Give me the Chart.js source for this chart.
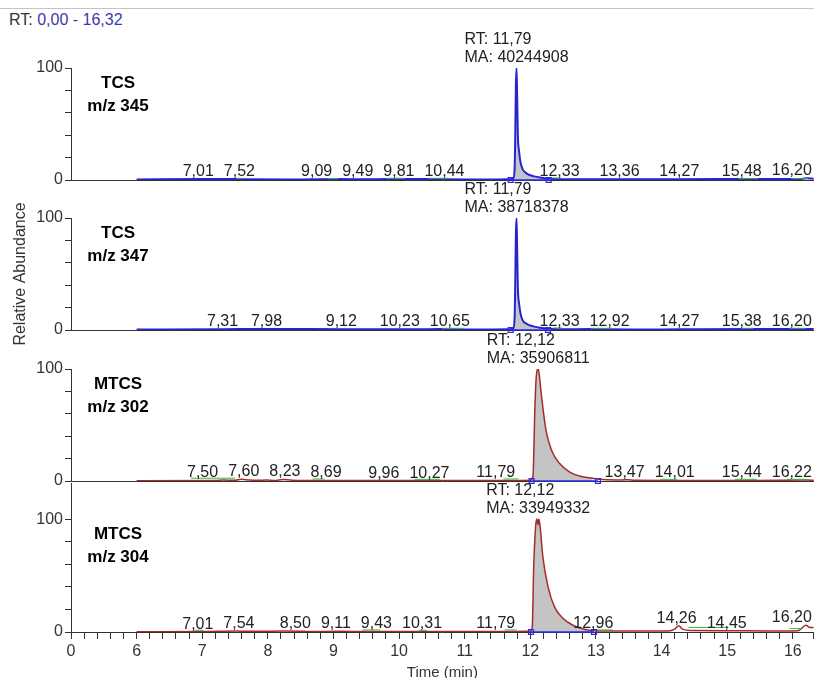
<!DOCTYPE html>
<html>
<head>
<meta charset="utf-8">
<script src="https://cdn.jsdelivr.net/npm/chart.js@4.4.1/dist/chart.umd.min.js"></script>
<style>
  html, body { margin: 0; padding: 0; background: #fff; overflow: hidden; }
  body { width: 814px; height: 678px; position: relative; font-family: "Liberation Sans", Arial, sans-serif; }
  .rule { position: absolute; left: 0; top: 8px; width: 814px; border-top: 1.5px solid #c4c4c4; }
  .range { position: absolute; left: 9px; top: 11px; font-size: 16px; line-height: 18px; color: #333; white-space: nowrap; }
  .range span { color: #3a3aad; }
  canvas { position: absolute; left: 0; }
</style>
</head>
<body>
<div class="rule"></div>
<div class="range">RT: <span>0,00 - 16,32</span></div>
<canvas id="p345"></canvas>
<canvas id="p347"></canvas>
<canvas id="p302"></canvas>
<canvas id="p304"></canvas>
<script>
// time axis: 0-6 min squeezed into one unit, one unit per minute after that
const T_MAX = 16.32;
const axisX = t => (t <= 6 ? t / 6 : t - 5);
const axisLabel = u => (u < 0.5 ? '0' : String(Math.round(u) + 5));
const fmt = v => v.toFixed(2).replace('.', ',');

// TCS m/z 345
const tcs345Time  = [6.00, 7.01, 7.52, 7.60, 8.50, 9.09, 9.49, 9.81, 10.44, 11.00, 11.70, 11.74, 11.76, 11.77, 11.78, 11.79, 11.80, 11.81, 11.83, 11.85, 11.88, 11.93, 12.00, 12.08, 12.15, 12.25, 12.33, 12.45, 13.36, 14.27, 15.48, 16.10, 16.20, 16.32];
const tcs345Abund = [0.5, 0.8, 1.0, 0.6, 0.5, 0.8, 0.7, 0.8, 0.8, 0.5, 0.6, 1.5, 9, 40, 85, 100, 72, 40, 25, 16, 10, 6.5, 4.2, 3.0, 2.2, 1.2, 1.0, 0.6, 0.7, 0.7, 0.9, 0.8, 1.5, 1.2];
const tcs345Peaks = [7.01, 7.52, 9.09, 9.49, 9.81, 10.44, 12.33, 13.36, 14.27, 15.48, 16.20];
const tcs345Green = [[7.52, 7.62, 1.5], [8.91, 9.08, 1.2], [9.80, 10.09, 1.5], [10.45, 10.80, 1.5], [12.30, 12.47, 1.8], [15.17, 15.47, 1.2], [15.98, 16.23, 1.2]];

// TCS m/z 347
const tcs347Time  = [6.00, 7.31, 7.98, 9.12, 10.23, 10.65, 11.00, 11.70, 11.74, 11.76, 11.77, 11.78, 11.79, 11.80, 11.81, 11.83, 11.85, 11.88, 11.93, 12.00, 12.08, 12.15, 12.25, 12.33, 12.45, 12.92, 13.50, 14.27, 15.38, 16.20, 16.32];
const tcs347Abund = [0.5, 0.7, 0.9, 0.7, 0.6, 0.8, 0.5, 0.6, 1.5, 10, 42, 86, 100, 70, 38, 23, 15, 9, 6, 4, 2.8, 2, 1.2, 1.0, 0.6, 0.8, 0.5, 0.6, 0.8, 1.0, 0.8];
const tcs347Peaks = [7.31, 7.98, 9.12, 10.23, 10.65, 12.33, 12.92, 14.27, 15.38, 16.20];
const tcs347Green = [[10.65, 11.00, 1.5], [12.34, 12.49, 1.8], [12.92, 13.25, 1.5], [15.22, 15.40, 1.5], [15.95, 16.20, 1.5]];

// MTCS m/z 302
const mtcs302Time  = [6.00, 7.20, 7.32, 7.50, 7.60, 7.72, 7.85, 7.98, 8.10, 8.23, 8.35, 8.50, 8.69, 9.96, 10.27, 11.79, 12.00, 12.04, 12.07, 12.09, 12.12, 12.14, 12.17, 12.24, 12.32, 12.44, 12.60, 12.75, 12.95, 13.05, 13.30, 13.47, 13.60, 14.01, 15.44, 16.22, 16.32];
const mtcs302Abund = [0.3, 0.4, 0.9, 0.6, 1.5, 0.8, 0.6, 0.9, 0.4, 1.4, 0.8, 0.4, 0.5, 0.4, 0.4, 0.5, 0.6, 4, 66, 93, 100, 93, 76, 45, 28, 16, 8, 4.5, 2.4, 1.5, 0.8, 1.2, 0.6, 0.5, 0.5, 0.8, 0.7];
const mtcs302Peaks = [7.50, 7.60, 8.23, 8.69, 9.96, 10.27, 11.79, 13.47, 14.01, 15.44, 16.22];
const mtcs302Green = [[6.83, 7.50, 2.5], [8.68, 8.86, 1.8], [10.24, 10.62, 1.5], [11.59, 11.82, 1.8], [13.98, 14.24, 1.5], [15.12, 15.45, 1.5], [15.91, 16.21, 1.5]];

// MTCS m/z 304
const mtcs304Time  = [6.00, 7.01, 7.54, 7.62, 7.95, 8.25, 8.50, 8.60, 9.11, 9.43, 10.31, 11.79, 12.00, 12.03, 12.05, 12.08, 12.10, 12.115, 12.13, 12.15, 12.19, 12.27, 12.37, 12.50, 12.65, 12.85, 12.96, 13.20, 14.10, 14.20, 14.26, 14.32, 14.45, 15.00, 15.60, 16.08, 16.20, 16.26, 16.32];
const mtcs304Abund = [0.3, 0.4, 0.8, 0.6, 0.7, 0.8, 0.7, 0.5, 0.6, 0.5, 0.5, 0.5, 0.6, 5, 55, 93, 100, 95, 100, 93, 67, 40, 22, 12, 6, 2, 1.2, 0.8, 0.9, 2.5, 5.5, 2.5, 1.3, 1.2, 0.9, 1.2, 6, 4, 4];
const mtcs304Peaks = [7.01, 7.54, 8.50, 9.11, 9.43, 10.31, 11.79, 12.96, 14.26, 14.45, 16.20];
const mtcs304Green = [[6.89, 7.02, 1.5], [9.44, 9.71, 1.8], [10.30, 10.42, 1.5], [11.61, 11.79, 1.8], [12.97, 13.26, 1.8], [14.41, 15.02, 4], [15.95, 16.15, 3]];

// integrated main peak of each trace
const peakRT   = [11.79, 11.79, 12.12, 12.12];
const peakArea = [40244908, 38718378, 35906811, 33949332];
const peakFrom = [11.70, 11.70, 12.02, 12.01];
const peakTo   = [12.28, 12.27, 13.03, 12.97];

const BLUE = '#2424d4';
const RED = '#a52b2b';
const GREEN = '#3cb53c';
const FILL = '#c4c4c4';
const INK = '#222';
const FONT = '"Liberation Sans", Arial, sans-serif';

const ZERO_Y = [180, 330, 481, 631]; // page y of each panel's 0 line

const panels = [
  { id: 'p345', name: 'TCS',  ion: 'm/z 345', time: tcs345Time,  abund: tcs345Abund,  peaks: tcs345Peaks,  green: tcs345Green,  color: BLUE, width: 2 },
  { id: 'p347', name: 'TCS',  ion: 'm/z 347', time: tcs347Time,  abund: tcs347Abund,  peaks: tcs347Peaks,  green: tcs347Green,  color: BLUE, width: 2 },
  { id: 'p302', name: 'MTCS', ion: 'm/z 302', time: mtcs302Time, abund: mtcs302Abund, peaks: mtcs302Peaks, green: mtcs302Green, color: RED,  width: 1.5 },
  { id: 'p304', name: 'MTCS', ion: 'm/z 304', time: mtcs304Time, abund: mtcs304Abund, peaks: mtcs304Peaks, green: mtcs304Green, color: RED,  width: 1.5 }
];
panels.forEach((p, k) => {
  p.rt = peakRT[k]; p.area = peakArea[k]; p.from = peakFrom[k]; p.to = peakTo[k];
});

// highest point of the trace close to a retention time
function levelAt(p, rt) {
  let best = null;
  p.time.forEach((t, i) => {
    if (Math.abs(t - rt) <= 0.03 && (best === null || p.abund[i] > best)) best = p.abund[i];
  });
  if (best !== null) return best;
  for (let i = 1; i < p.time.length; i++) {
    if (p.time[i] >= rt) {
      const f = (rt - p.time[i - 1]) / (p.time[i] - p.time[i - 1]);
      return p.abund[i - 1] + f * (p.abund[i] - p.abund[i - 1]);
    }
  }
  return p.abund[p.abund.length - 1];
}

// push overlapping labels apart (taller peaks hold their place), keep them inside [lo, hi]
function spread(items, lo, hi, gap = 10) {
  items.sort((a, b) => a.x - b.x);
  for (let pass = 0; pass < 400; pass++) {
    let moved = false;
    for (let i = 0; i < items.length - 1; i++) {
      const a = items[i], b = items[i + 1];
      const short = (a.w + b.w) / 2 + gap - (b.x - a.x);
      if (short <= 0.01) continue;
      moved = true;
      if (a.fixed) b.x += short;
      else if (b.fixed) a.x -= short;
      else {
        const share = b.weight / (a.weight + b.weight);
        a.x -= short * share;
        b.x += short * (1 - share);
      }
    }
    items.forEach(it => {
      if (!it.fixed) it.x = Math.min(Math.max(it.x, lo + it.w / 2), hi - it.w / 2);
    });
    if (!moved) break;
  }
}

function annotator(p, k) {
  return {
    id: 'annotate' + k,
    afterDatasetsDraw(chart) {
      const { ctx, chartArea } = chart;
      const xs = chart.scales.x, ys = chart.scales.y;
      ctx.save();

      // compound and ion
      ctx.fillStyle = '#000';
      ctx.font = `bold 17px ${FONT}`;
      ctx.textAlign = 'center';
      ctx.textBaseline = 'middle';
      const y100 = ys.getPixelForValue(100);
      ctx.fillText(p.name, chartArea.left + 47, y100 + 15);
      ctx.fillText(p.ion, chartArea.left + 47, y100 + 38);

      // RT / MA block over the main peak
      ctx.fillStyle = INK;
      ctx.font = `16px ${FONT}`;
      ctx.textAlign = 'left';
      ctx.textBaseline = 'alphabetic';
      const apexX = xs.getPixelForValue(axisX(p.rt));
      const apexY = ys.getPixelForValue(levelAt(p, p.rt));
      const l1 = 'RT: ' + fmt(p.rt);
      const l2 = 'MA: ' + p.area;
      const bw = Math.max(ctx.measureText(l1).width, ctx.measureText(l2).width);
      ctx.fillText(l1, apexX - bw / 2, apexY - 24);
      ctx.fillText(l2, apexX - bw / 2, apexY - 6);

      // small peaks
      ctx.font = `16px ${FONT}`;
      ctx.textAlign = 'center';
      const items = p.peaks.map(rt => {
        const text = fmt(rt);
        const lvl = levelAt(p, rt);
        return { rt, text, lvl, weight: lvl * lvl, w: ctx.measureText(text).width, x: xs.getPixelForValue(axisX(rt)) };
      });
      items.push({ fixed: true, w: 26, x: apexX });
      spread(items, chartArea.left, Math.min(chartArea.right, 814) - 2);
      items.forEach(it => {
        if (it.fixed) return;
        ctx.fillText(it.text, it.x, ys.getPixelForValue(it.lvl) - 3);
      });
      ctx.restore();
    }
  };
}

function buildPanel(p, k) {
  const last = k === panels.length - 1;
  const canvas = document.getElementById(p.id);
  const top = ZERO_Y[k] - 165;
  const yMax = last ? 132 : 100;
  const padTop = 165 - Math.round(112 * yMax / 100);
  canvas.width = 819;
  canvas.height = last ? 214 : 190;
  canvas.style.top = top + 'px';

  const trace = p.time.map((t, i) => ({ x: axisX(t), y: p.abund[i] }));
  const area = p.time
    .map((t, i) => ({ t, x: axisX(t), y: p.abund[i] }))
    .filter(d => d.t >= p.from && d.t <= p.to);
  const greens = [];
  p.green.forEach(([a, b, lvl]) => {
    greens.push({ x: axisX(a), y: lvl }, { x: axisX(b), y: lvl }, { x: axisX(b), y: null });
  });

  const tickColor = '#333';
  const xScale = last ? {
    type: 'linear', min: 0, max: axisX(T_MAX),
    ticks: {
      stepSize: 0.2, autoSkip: false, maxRotation: 0, padding: 5,
      color: tickColor, font: { family: FONT, size: 16, lineHeight: 1 },
      callback: v => (Math.abs(v - Math.round(v)) < 1e-6 ? axisLabel(v) : '')
    },
    grid: { drawOnChartArea: false, tickLength: 7, color: tickColor },
    border: { color: tickColor, width: 1 },
    title: { display: true, text: 'Time (min)', color: tickColor, font: { family: FONT, size: 15, lineHeight: 1 }, padding: 0 }
  } : {
    type: 'linear', min: 0, max: axisX(T_MAX),
    ticks: { display: false },
    grid: { display: false, drawTicks: false },
    border: { color: tickColor, width: 1 }
  };

  new Chart(canvas, {
    type: 'line',
    data: {
      datasets: [
        { data: area, fill: 'origin', backgroundColor: FILL, borderWidth: 0, pointRadius: 0, cubicInterpolationMode: 'monotone', order: 3 },
        { data: trace, borderColor: p.color, borderWidth: p.width, pointRadius: 0, fill: false, cubicInterpolationMode: 'monotone', order: 2 },
        { data: greens, borderColor: GREEN, borderWidth: 1, pointRadius: 0, fill: false, spanGaps: false, order: 1 },
        {
          data: [{ x: axisX(p.from), y: 0 }, { x: axisX(p.to), y: 0 }],
          borderColor: '#2a2ae6', borderWidth: 1.5, fill: false, clip: false,
          pointStyle: 'rect', pointRadius: 3.5, pointBorderWidth: 1.2,
          pointBorderColor: '#2a2ae6', pointBackgroundColor: 'rgba(255,255,255,0)', order: 0
        }
      ]
    },
    options: {
      responsive: false,
      animation: false,
      events: [],
      layout: { padding: { top: padTop, bottom: last ? 0 : 25, left: 0, right: 0 } },
      plugins: { legend: { display: false }, tooltip: { enabled: false } },
      scales: {
        x: xScale,
        y: {
          min: 0, max: yMax,
          afterFit: s => { s.width = 71; },
          afterBuildTicks: s => { s.ticks = s.ticks.filter(t => t.value <= 100); },
          ticks: {
            stepSize: 10, padding: 2, color: tickColor, font: { family: FONT, size: 16 },
            callback: v => (v % 50 === 0 ? String(v) : '')
          },
          grid: { drawOnChartArea: false, tickLength: 6, color: tickColor },
          border: { color: tickColor, width: 1 },
          title: {
            display: k === 1, text: 'Relative Abundance', color: tickColor,
            font: { family: FONT, size: 16 }, padding: { top: 11, bottom: 0 }
          }
        }
      }
    },
    plugins: [annotator(p, k)]
  });
}

panels.forEach(buildPanel);
</script>
</body>
</html>
